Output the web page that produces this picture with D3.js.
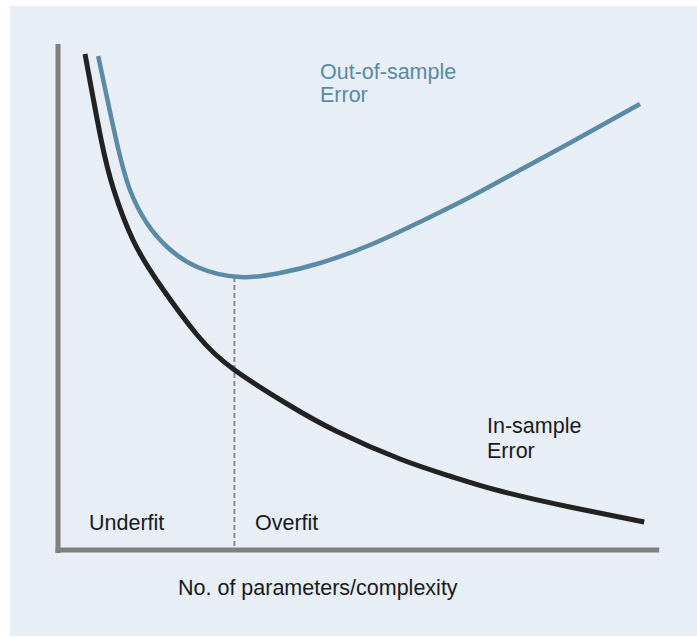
<!DOCTYPE html>
<html>
<head>
<meta charset="utf-8">
<script src="https://cdn.jsdelivr.net/npm/d3@7"></script>
<style>
  html, body { margin: 0; padding: 0; background: #fff; }
  text { font-family: "Liberation Sans", Arial, sans-serif; }
</style>
</head>
<body>
<div id="chart"></div>
<script>
// complexity (x) vs error (y), arbitrary units
var inSampleX  = [4.5, 7.2, 9.3, 12.5, 17, 23.2, 29.2, 38.2, 46.5, 57, 65.3, 73.7, 85.3, 97.7];
var inSampleY  = [99.2, 82, 72, 62, 53, 43, 36.2, 29.2, 23.7, 18.2, 14.8, 11.8, 8.6, 5.6];
var outSampleX = [6.7, 9.7, 12, 14.8, 18.2, 23.2, 30.3, 37, 43.7, 52, 60.3, 68.7, 77, 85.3, 97];
var outSampleY = [98.8, 82, 72, 65.4, 60.6, 56.6, 54.6, 55.4, 57.4, 61, 65.6, 70.6, 76, 81.4, 89.2];
var bestFitX = 29.4;   // dashed divider
var bestFitY = 54.6;
var regionLabels = ["Underfit", "Overfit"];
var xLabel = "No. of parameters/complexity";

var W = 697, H = 637;
var svg = d3.select("#chart").append("svg").attr("width", W).attr("height", H);

// panel background
svg.append("rect").attr("x", 10).attr("y", 6).attr("width", W - 10).attr("height", 630).attr("fill", "#e7eef5");

var x = d3.scaleLinear().domain([0, 100]).range([58, 658]);
var y = d3.scaleLinear().domain([0, 100]).range([550, 50]);

var axisColor = "#808080";
//坐标轴
svg.append("line").attr("x1", x(0)).attr("y1", y(101.2)).attr("x2", x(0)).attr("y2", y(-0.6))
   .attr("stroke", axisColor).attr("stroke-width", 5);
svg.append("line").attr("x1", x(-0.4)).attr("y1", y(0)).attr("x2", x(100.2)).attr("y2", y(0))
   .attr("stroke", axisColor).attr("stroke-width", 5);

// dashed line at the optimum
svg.append("line").attr("x1", x(bestFitX)).attr("y1", y(bestFitY)).attr("x2", x(bestFitX)).attr("y2", y(0))
   .attr("stroke", "#8a8a8a").attr("stroke-width", 2).attr("stroke-dasharray", "5,3");

var line = d3.line().x(function(d){ return x(d[0]); }).y(function(d){ return y(d[1]); })
   .curve(d3.curveNatural);

svg.append("path").datum(d3.zip(outSampleX, outSampleY)).attr("d", line)
   .attr("fill", "none").attr("stroke", "#5a8aa5").attr("stroke-width", 4.5);
svg.append("path").datum(d3.zip(inSampleX, inSampleY)).attr("d", line)
   .attr("fill", "none").attr("stroke", "#222").attr("stroke-width", 5);

// labels
function label(tx, ty, lines, color, gap) {
  var t = svg.append("text").attr("x", tx).attr("y", ty).attr("font-size", 21.5).attr("fill", color);
  lines.forEach(function(s, i){
    t.append("tspan").attr("x", tx).attr("dy", i ? gap : 0).text(s);
  });
}
label(320, 79, ["Out-of-sample", "Error"], "#5a8aa5", 23);
label(487, 433, ["In-sample", "Error"], "#1a1a1a", 25);
label(89, 530, [regionLabels[0]], "#1a1a1a");
label(255, 530, [regionLabels[1]], "#1a1a1a");
label(178, 595, [xLabel], "#1a1a1a");
</script>
</body>
</html>
